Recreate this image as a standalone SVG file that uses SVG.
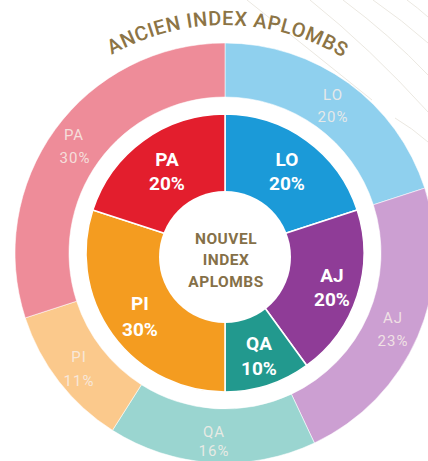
<svg xmlns="http://www.w3.org/2000/svg" width="428" height="461" viewBox="0 0 428 461">
  <style>
    .bg { fill: none; stroke: #ebe8e1; stroke-width: 1; }
    .outer { stroke: #ffffff; stroke-opacity: 0.55; stroke-width: 1; }
    .inner { stroke: #ffffff; stroke-width: 1.5; }
    .olab { font-family: Roboto, "Liberation Sans", sans-serif; font-size: 15px; fill: #f7eee8; fill-opacity: 0.85; text-anchor: middle; letter-spacing: 1px; }
    .ilab { font-family: Roboto, "Liberation Sans", sans-serif; font-size: 19px; font-weight: 700; fill: #ffffff; text-anchor: middle; }
    .center { font-family: Roboto, "Liberation Sans", sans-serif; font-size: 15.5px; font-weight: 700; fill: #857048; text-anchor: middle; letter-spacing: 0.5px; }
    .title { font-family: Roboto, "Liberation Sans", sans-serif; font-size: 20px; font-weight: 500; fill: #8c7445; letter-spacing: 0.6px; }
  </style>
  <defs>
    <path id="titleArc" d="M -5,255 A 230 230 0 0 1 455,255"/>
  </defs>
  <rect width="428" height="461" fill="#ffffff"/>
  <g id="background-lines">
    <path class="bg" d="M247,0 Q310,50 372,100"/>
    <path class="bg" d="M310,0 Q370,48 428,112"/>
    <path class="bg" d="M343,0 Q390,35 428,75"/>
    <path class="bg" d="M373,0 Q402,20 428,43"/>
    <path class="bg" d="M407,0 Q418,8 428,17"/>
    <path class="bg" d="M395,118 Q412,128 428,142"/>
  </g>
  <g id="title">
    <text class="title"><textPath href="#titleArc" startOffset="50.4%" text-anchor="middle">ANCIEN INDEX APLOMBS</textPath></text>
  </g>
  <g id="outer-LO">
    <path class="outer" fill="#8fd0ee" d="M225,43 A210,210 0 0 1 424.72,188.11 L373.37,204.79 A156,156 0 0 0 225,97 Z"/>
    <text class="olab" x="333" y="100">LO</text>
    <text class="olab" x="333" y="122">20%</text>
  </g>
  <g id="outer-AJ">
    <path class="outer" fill="#cc9fd2" d="M424.72,188.11 A210,210 0 0 1 314.41,443.01 L291.42,394.15 A156,156 0 0 0 373.37,204.79 Z"/>
    <text class="olab" x="393" y="323">AJ</text>
    <text class="olab" x="393" y="346">23%</text>
  </g>
  <g id="outer-QA">
    <path class="outer" fill="#9ad5d0" d="M314.41,443.01 A210,210 0 0 1 112.48,430.31 L141.41,384.72 A156,156 0 0 0 291.42,394.15 Z"/>
    <text class="olab" x="214" y="437">QA</text>
    <text class="olab" x="214" y="456">16%</text>
  </g>
  <g id="outer-PI">
    <path class="outer" fill="#fbc98c" d="M112.48,430.31 A210,210 0 0 1 25.28,317.89 L76.63,301.21 A156,156 0 0 0 141.41,384.72 Z"/>
    <text class="olab" x="79" y="362">PI</text>
    <text class="olab" x="79" y="386">11%</text>
  </g>
  <g id="outer-PA">
    <path class="outer" fill="#ee8c99" d="M25.28,317.89 A210,210 0 0 1 225,43 L225,97 A156,156 0 0 0 76.63,301.21 Z"/>
    <text class="olab" x="74" y="140">PA</text>
    <text class="olab" x="75" y="163">30%</text>
  </g>
  <g id="inner-LO">
    <path class="inner" fill="#1b9ad8" d="M225,253 L225,114 A139,139 0 0 1 357.20,210.05 Z"/>
    <text class="ilab" x="287" y="166">LO</text>
    <text class="ilab" x="287" y="190">20%</text>
  </g>
  <g id="inner-AJ">
    <path class="inner" fill="#8f3c97" d="M225,253 L357.20,210.05 A139,139 0 0 1 306.70,365.45 Z"/>
    <text class="ilab" x="332" y="282">AJ</text>
    <text class="ilab" x="332" y="306">20%</text>
  </g>
  <g id="inner-QA">
    <path class="inner" fill="#22998e" d="M225,253 L306.70,365.45 A139,139 0 0 1 225,392 Z"/>
    <text class="ilab" x="259" y="350">QA</text>
    <text class="ilab" x="259" y="375">10%</text>
  </g>
  <g id="inner-PI">
    <path class="inner" fill="#f49c20" d="M225,253 L225,392 A139,139 0 0 1 92.80,210.05 Z"/>
    <text class="ilab" x="140" y="310">PI</text>
    <text class="ilab" x="140" y="336">30%</text>
  </g>
  <g id="inner-PA">
    <path class="inner" fill="#e31e2d" d="M225,253 L92.80,210.05 A139,139 0 0 1 225,114 Z"/>
    <text class="ilab" x="167" y="166">PA</text>
    <text class="ilab" x="167" y="190">20%</text>
  </g>
  <g id="center">
    <circle cx="225" cy="257" r="66" fill="#ffffff"/>
    <text class="center" x="226" y="244">NOUVEL</text>
    <text class="center" x="226" y="265">INDEX</text>
    <text class="center" x="226" y="287">APLOMBS</text>
  </g>
</svg>
